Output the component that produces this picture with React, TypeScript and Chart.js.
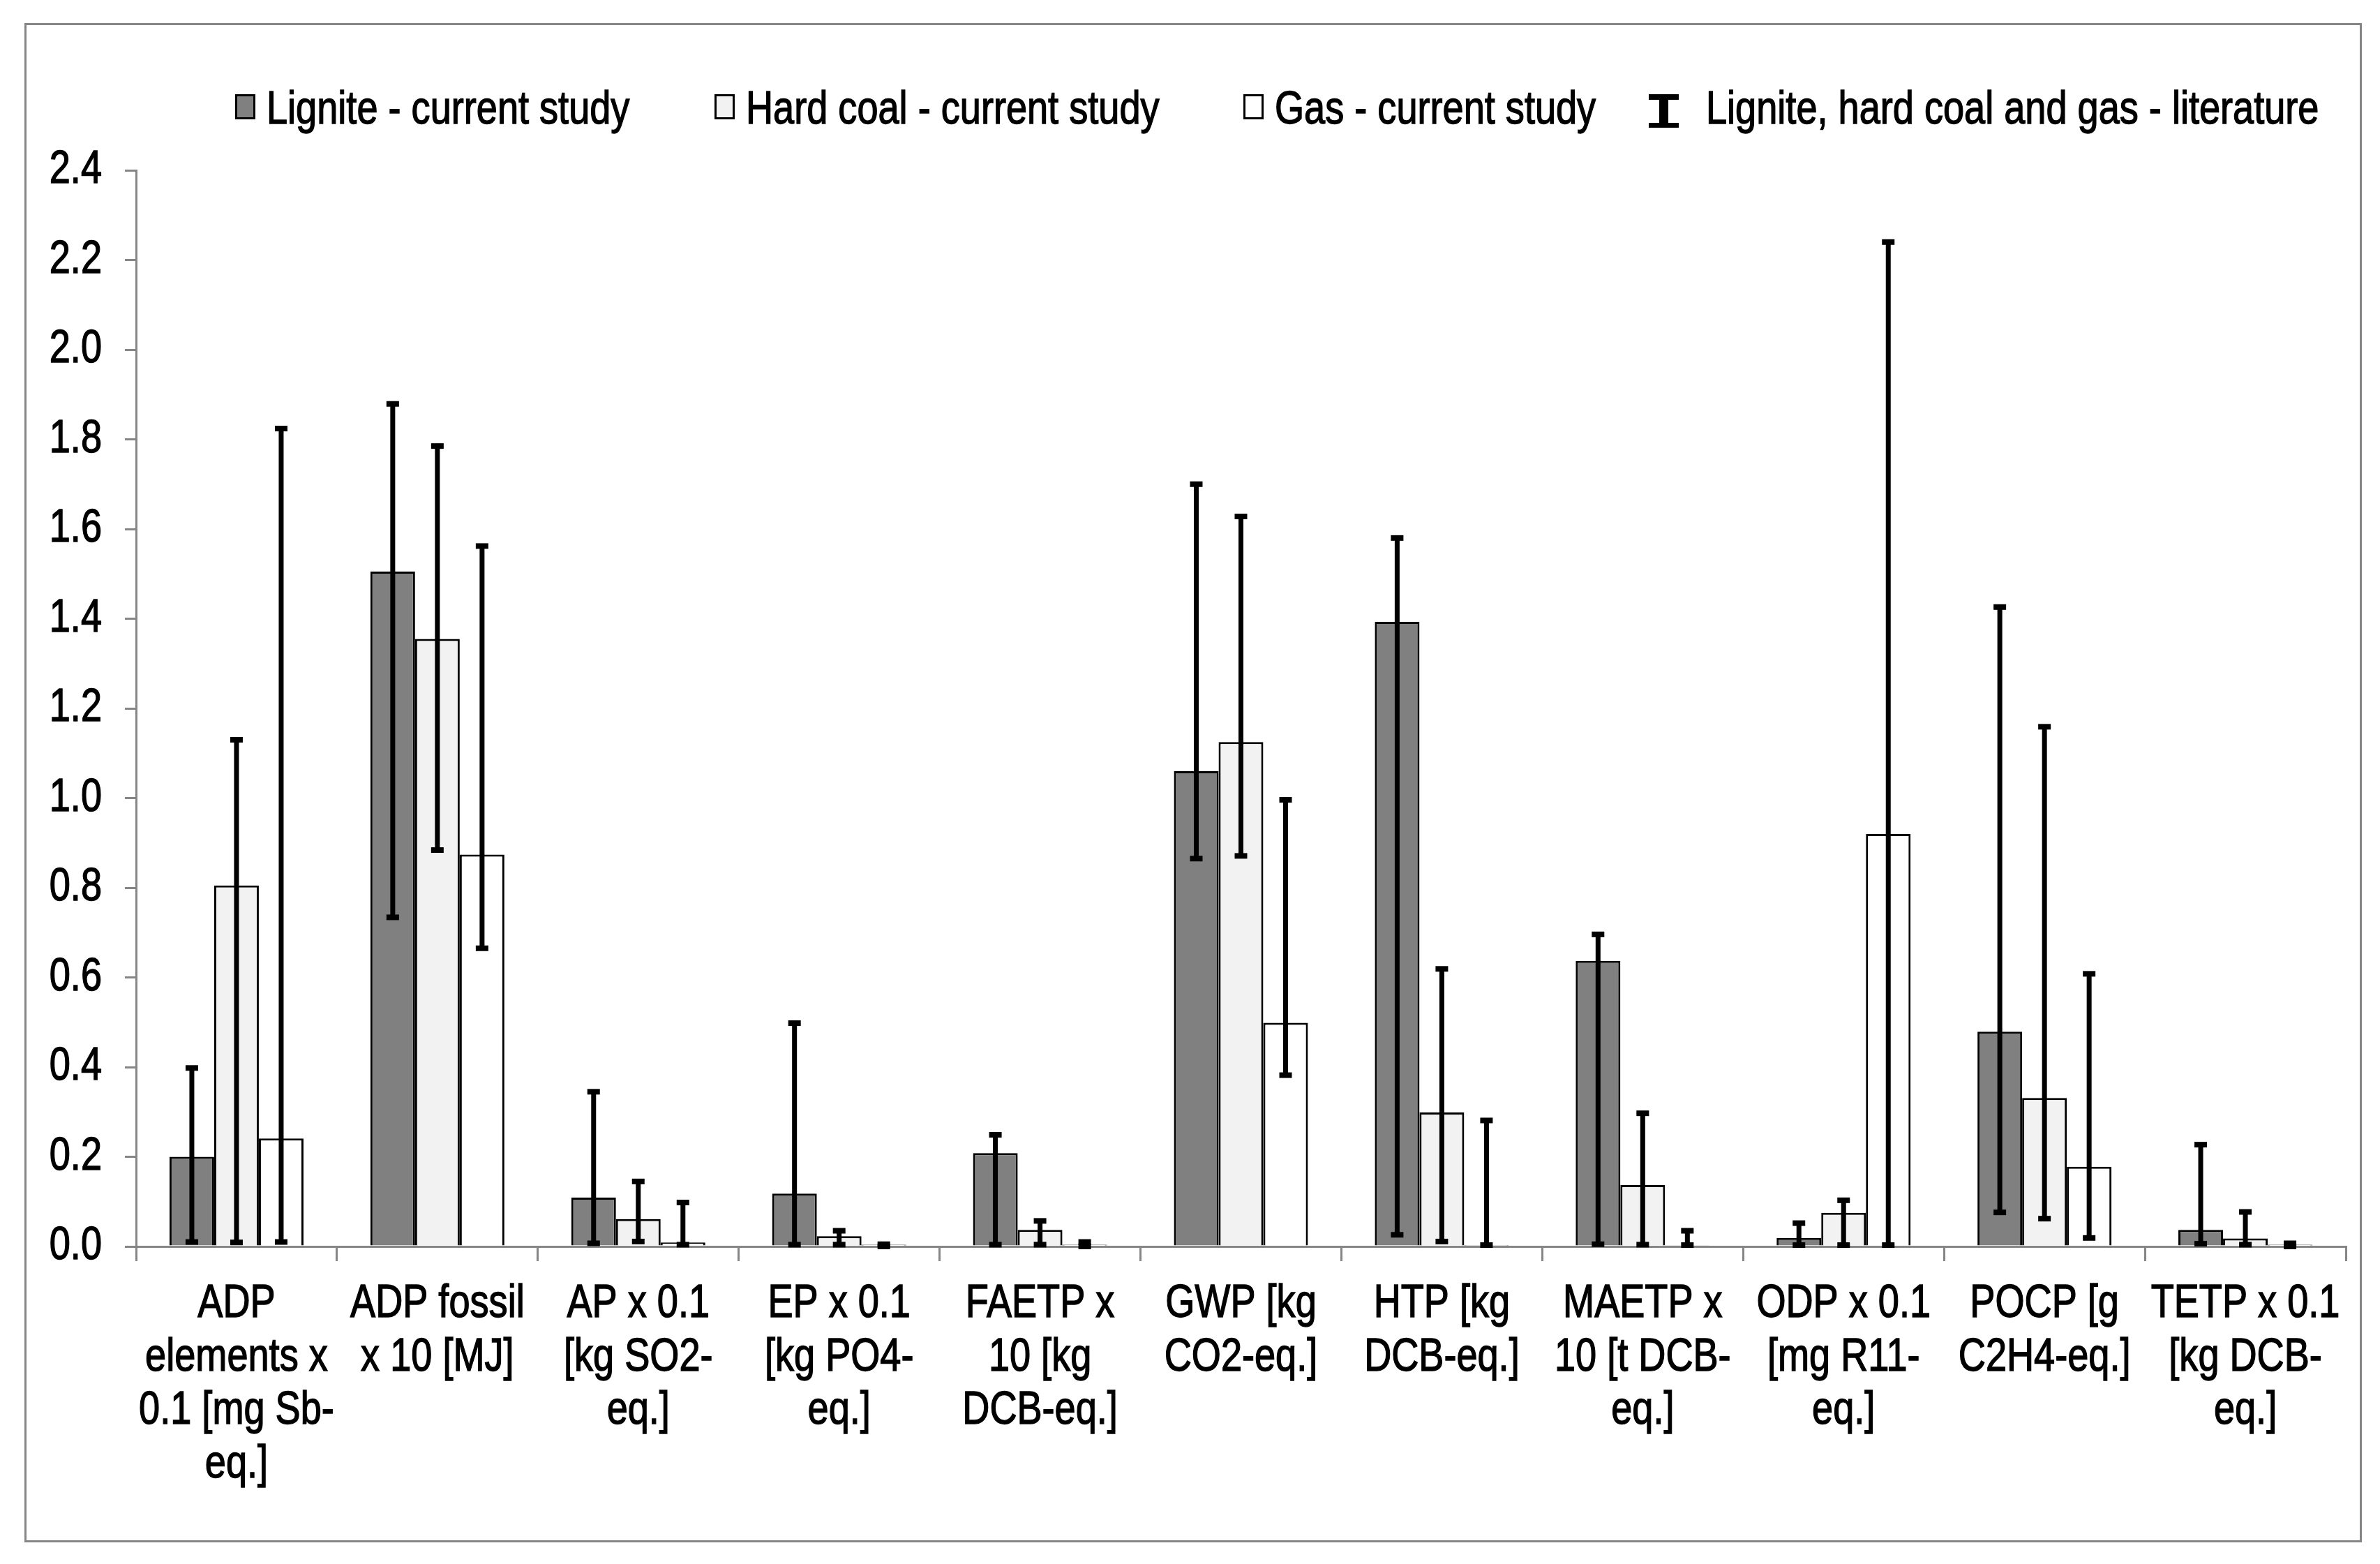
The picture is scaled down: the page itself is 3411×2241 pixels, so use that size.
import { useEffect, useRef } from 'react';
import { Chart, registerables } from 'chart.js';

Chart.register(...registerables);

// Arial Narrow is not installed: Liberation Sans squeezed horizontally stands in for it
const FONT = "'Liberation Sans', Arial, sans-serif";
const FONT_SIZE = 66;
const NARROW = 0.82;

// impact categories (multi-line axis labels)
const categories = [
  ['ADP', 'elements x', '0.1 [mg Sb-', 'eq.]'],
  ['ADP fossil', 'x 10 [MJ]'],
  ['AP x 0.1', '[kg SO2-', 'eq.]'],
  ['EP x 0.1', '[kg PO4-', 'eq.]'],
  ['FAETP x', '10 [kg', 'DCB-eq.]'],
  ['GWP [kg', 'CO2-eq.]'],
  ['HTP [kg', 'DCB-eq.]'],
  ['MAETP x', '10 [t DCB-', 'eq.]'],
  ['ODP x 0.1', '[mg R11-', 'eq.]'],
  ['POCP [g', 'C2H4-eq.]'],
  ['TETP x 0.1', '[kg DCB-', 'eq.]'],
];

// current study
const lignite = [0.2, 1.505, 0.109, 0.118, 0.208, 1.06, 1.393, 0.637, 0.019, 0.479, 0.037];
const hardCoal = [0.805, 1.355, 0.061, 0.023, 0.037, 1.125, 0.299, 0.137, 0.075, 0.331, 0.018];
const gas = [0.241, 0.874, 0.009, 0.004, 0.004, 0.499, 0.003, 0.002, 0.92, 0.178, 0.004];

// literature ranges (min / max)
const ligniteLitMin = [0.01, 0.734, 0.007, 0.004, 0.004, 0.865, 0.026, 0.005, 0.003, 0.076, 0.006];
const ligniteLitMax = [0.398, 1.879, 0.345, 0.498, 0.249, 1.7, 1.58, 0.696, 0.052, 1.426, 0.227];
const hardCoalLitMin = [0.009, 0.884, 0.011, 0.004, 0.004, 0.871, 0.011, 0.004, 0.003, 0.062, 0.004];
const hardCoalLitMax = [1.13, 1.785, 0.145, 0.035, 0.057, 1.628, 0.619, 0.297, 0.103, 1.159, 0.077];
const gasLitMin = [0.01, 0.665, 0.004, 0.0, 0.0, 0.382, 0.003, 0.003, 0.003, 0.019, 0.0];
const gasLitMax = [1.824, 1.562, 0.098, 0.005, 0.01, 0.996, 0.281, 0.035, 2.24, 0.608, 0.007];

const seriesNames = ['Lignite - current study', 'Hard coal - current study', 'Gas - current study'];
const literatureName = 'Lignite, hard coal and gas - literature';

const litRanges = [
  [ligniteLitMin, ligniteLitMax],
  [hardCoalLitMin, hardCoalLitMax],
  [gasLitMin, gasLitMax],
];

const AXIS_GREY = '#868686';
const Y_TICK_LEN = 16;
const Y_TICK_PAD = 33;
const X_TICK_LEN = 21;
const X_TICK_PAD = 24;
const LINE_H = 76.5;

function narrowText(ctx: CanvasRenderingContext2D, text: string, x: number, y: number, align: CanvasTextAlign) {
  ctx.save();
  ctx.translate(x, y);
  ctx.scale(NARROW, 1);
  ctx.textAlign = align;
  ctx.fillText(text, 0, 0);
  // a hairline stroke gives the heavier look of the original narrow face
  ctx.lineWidth = 1.4;
  ctx.strokeStyle = '#000';
  ctx.strokeText(text, 0, 0);
  ctx.restore();
}

// error bars for the literature ranges, centred on each bar
const rangePlugin = {
  id: 'literatureRange',
  afterDatasetsDraw(chart: any) {
    const { ctx } = chart;
    const y = chart.scales.y;
    ctx.save();
    ctx.fillStyle = '#000';
    litRanges.forEach(([lo, hi], di) => {
      const meta = chart.getDatasetMeta(di);
      meta.data.forEach((bar: any, i: number) => {
        if (lo[i] == null || hi[i] == null) return;
        const yLo = y.getPixelForValue(lo[i]);
        const yHi = y.getPixelForValue(hi[i]);
        ctx.fillRect(bar.x - 3.5, yHi, 7, yLo - yHi);
        ctx.fillRect(bar.x - 9, yHi - 4, 18, 8);
        ctx.fillRect(bar.x - 9, yLo - 4, 18, 8);
      });
    });
    ctx.restore();
  },
};

// tick labels in the narrow face, placed from the scales' own ticks
const labelPlugin = {
  id: 'narrowLabels',
  afterDraw(chart: any) {
    const { ctx } = chart;
    const { x, y } = chart.scales;
    ctx.save();
    ctx.font = `${FONT_SIZE}px ${FONT}`;
    ctx.fillStyle = '#000';
    ctx.textBaseline = 'middle';
    y.ticks.forEach((t: any, i: number) => {
      narrowText(ctx, String(t.label), y.right - Y_TICK_LEN - Y_TICK_PAD, y.getPixelForTick(i), 'right');
    });
    const top = x.top + X_TICK_LEN + X_TICK_PAD;
    x.ticks.forEach((t: any, i: number) => {
      const lines = Array.isArray(t.label) ? t.label : [t.label];
      lines.forEach((line: string, k: number) => {
        narrowText(ctx, line, x.getPixelForTick(i), top + LINE_H * (k + 0.5), 'center');
      });
    });
    ctx.restore();
  },
};

// legend drawn by hand so the error-bar symbol can be shown
const legendX = [344, 1031, 1789, 2407];
const legendBaseline = 141;

const legendPlugin = {
  id: 'studyLegend',
  afterDraw(chart: any) {
    const { ctx } = chart;
    ctx.save();
    ctx.font = `${FONT_SIZE}px ${FONT}`;
    ctx.textBaseline = 'alphabetic';
    chart.data.datasets.forEach((ds: any, k: number) => {
      const x = legendX[k];
      ctx.fillStyle = ds.backgroundColor;
      ctx.fillRect(x - 45, 99, 29, 36);
      ctx.lineWidth = 3;
      ctx.strokeStyle = '#000';
      ctx.strokeRect(x - 43.5, 100.5, 26, 33);
      ctx.fillStyle = '#000';
      narrowText(ctx, ds.label, x, legendBaseline, 'left');
    });
    const x = legendX[3];
    ctx.fillStyle = '#000';
    ctx.fillRect(x - 82, 99, 43, 8);
    ctx.fillRect(x - 82, 140, 43, 7);
    ctx.fillRect(x - 67, 99, 13, 48);
    narrowText(ctx, literatureName, x, legendBaseline, 'left');
    ctx.restore();
  },
};

export default function App() {
  const canvasRef = useRef<HTMLCanvasElement>(null);
  const chartRef = useRef<Chart | null>(null);

  useEffect(() => {
    if (!canvasRef.current) return;
    if (chartRef.current) chartRef.current.destroy();

    Chart.defaults.font.family = FONT;
    Chart.defaults.font.size = FONT_SIZE;
    Chart.defaults.color = '#000';

    chartRef.current = new Chart(canvasRef.current, {
      type: 'bar',
      data: {
        labels: categories,
        datasets: [
          { label: seriesNames[0], data: lignite, backgroundColor: '#808080' },
          { label: seriesNames[1], data: hardCoal, backgroundColor: '#f2f2f2' },
          { label: seriesNames[2], data: gas, backgroundColor: '#ffffff' },
        ].map((d) => ({
          ...d,
          borderColor: '#000',
          borderWidth: 3,
          barPercentage: 1,
          categoryPercentage: 0.667,
        })),
      },
      options: {
        responsive: false,
        animation: false,
        layout: { padding: { top: 208, left: 37, right: 20, bottom: 70 } },
        plugins: {
          legend: { display: false },
          tooltip: { enabled: false },
        },
        scales: {
          x: {
            grid: {
              offset: true,
              drawOnChartArea: false,
              tickLength: X_TICK_LEN,
              color: AXIS_GREY,
              lineWidth: 3,
            },
            border: { color: AXIS_GREY, width: 3 },
            ticks: { display: false, autoSkip: false, maxRotation: 0 },
            afterFit: (scale: any) => {
              scale.height = X_TICK_LEN + X_TICK_PAD + LINE_H * 4;
              scale.paddingLeft = 0;
              scale.paddingRight = 0;
            },
          },
          y: {
            min: 0,
            max: 2.4,
            grid: {
              drawOnChartArea: false,
              tickLength: Y_TICK_LEN,
              color: AXIS_GREY,
              lineWidth: 3,
            },
            border: { color: AXIS_GREY, width: 3 },
            ticks: {
              display: false,
              stepSize: 0.2,
              callback: (v: any) => Number(v).toFixed(1),
            },
            afterFit: (scale: any) => {
              scale.width = 120;
              scale.paddingTop = 0;
              scale.paddingBottom = 0;
            },
          },
        },
      },
      plugins: [rangePlugin, labelPlugin, legendPlugin],
    });

    return () => {
      if (chartRef.current) {
        chartRef.current.destroy();
        chartRef.current = null;
      }
    };
  }, []);

  return (
    <div
      style={{
        position: 'absolute',
        left: 35,
        top: 33,
        width: 3350,
        height: 2177,
        border: `3px solid ${AXIS_GREY}`,
        boxSizing: 'border-box',
        background: '#fff',
      }}
    >
      <canvas ref={canvasRef} width={3344} height={2171} style={{ display: 'block' }} />
    </div>
  );
}
